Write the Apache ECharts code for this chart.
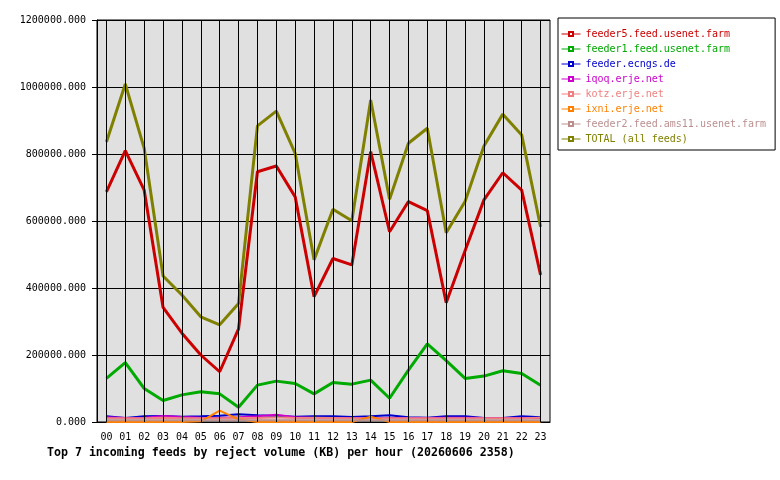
<!DOCTYPE html>
<html>
<head>
<meta charset="utf-8">
<script src="https://cdn.jsdelivr.net/npm/echarts@6/dist/echarts.min.js"></script>
<style>
  html, body { margin: 0; padding: 0; background: #fff; }
  #chart { width: 780px; height: 480px; }
</style>
</head>
<body>
<div id="chart"></div>
<script>
// hours on the x axis
var hours = ['00', '01', '02', '03', '04', '05', '06', '07', '08', '09', '10', '11',
             '12', '13', '14', '15', '16', '17', '18', '19', '20', '21', '22', '23'];

// reject volume (KB) per feed
var feeder5 = [687000, 810000, 692000, 342000, 265000, 200000, 150000, 278000, 747000, 764000, 672000, 374000,
               488000, 469000, 807000, 568000, 658000, 631000, 356000, 511000, 663000, 744000, 692000, 439000];
var feeder1 = [130000, 177000, 100000, 64000, 81000, 90000, 84000, 44000, 110000, 122000, 115000, 84000,
               118000, 113000, 125000, 71000, 155000, 233000, 183000, 130000, 137000, 153000, 145000, 110000];
var ecngs = [17000, 12000, 17000, 18000, 16000, 17000, 19000, 23000, 20000, 18000, 16000, 17000,
             17000, 15000, 17000, 20000, 14000, 13000, 17000, 17000, 12000, 12000, 17000, 14000];
var iqoq = [14000, 12000, 13000, 18000, 15000, 13000, 12000, 14000, 17000, 22000, 14000, 12000,
            12000, 12000, 12000, 12000, 12000, 12000, 13000, 13000, 12000, 12000, 12000, 12000];
var kotz = [11000, 11000, 11000, 13000, 11000, 11000, 11000, 12000, 12000, 14000, 12000, 13000,
            12000, 11000, 11000, 11000, 11000, 11000, 11000, 11000, 11000, 11000, 11000, 13000];
var ixni = [0, 0, 0, 0, 0, 2000, 34000, 8000, 0, 0, 0, 0,
            0, 0, 16000, 0, 0, 0, 0, 0, 0, 0, 0, 0];
var feeder2 = [5000, 5000, 5000, 5000, 5000, 5000, 5000, 5000, 5000, 5000, 5000, 5000,
               5000, 5000, 5000, 5000, 5000, 5000, 5000, 5000, 5000, 5000, 5000, 5000];
var total = [836000, 1009000, 817000, 436000, 379000, 314000, 290000, 354000, 884000, 928000, 802000, 484000,
             635000, 601000, 961000, 665000, 832000, 877000, 565000, 658000, 824000, 919000, 857000, 583000];

var feedNames = ['feeder5.feed.usenet.farm', 'feeder1.feed.usenet.farm', 'feeder.ecngs.de', 'iqoq.erje.net',
                 'kotz.erje.net', 'ixni.erje.net', 'feeder2.feed.ams11.usenet.farm', 'TOTAL (all feeds)'];
var feedData = [feeder5, feeder1, ecngs, iqoq, kotz, ixni, feeder2, total];
var feedColors = ['#cc0000', '#00aa00', '#0000cc', '#cc00cc', '#f08080', '#ff8000', '#bc8f8f', '#808000'];
var feedWidths = [3, 3, 2, 2, 2, 2, 2, 3];

var font = '"DejaVu Sans Mono", monospace';

var chart = echarts.init(document.getElementById('chart'));

// vertical grid lines sit on the hour centres, not on the band edges
var series = [{
    name: 'hour-grid',
    type: 'line',
    data: [],
    z: 1,
    silent: true,
    markLine: {
        silent: true,
        symbol: 'none',
        label: { show: false },
        lineStyle: { color: '#000', width: 1, type: 'solid' },
        data: hours.map(function (h) { return { xAxis: h }; })
    }
}];
var legendData = [];
for (var i = 0; i < feedNames.length; i++) {
    series.push({
        name: feedNames[i],
        type: 'line',
        data: feedData[i],
        symbol: 'emptyRect',
        symbolSize: 4,
        showSymbol: false,
        lineStyle: { color: feedColors[i], width: feedWidths[i] },
        itemStyle: { color: feedColors[i] }
    });
    legendData.push({ name: feedNames[i], textStyle: { color: feedColors[i] } });
}

chart.setOption({
    animation: false,
    title: {
        text: 'Top 7 incoming feeds by reject volume (KB) per hour (20260606 2358)',
        left: 47,
        top: 447,
        padding: 0,
        textStyle: { fontFamily: font, fontSize: 11.6, fontWeight: 'bold', color: '#000' }
    },
    legend: {
        orient: 'vertical',
        left: 558,
        top: 18,
        data: legendData,
        borderColor: '#000',
        borderWidth: 1,
        padding: [10, 9, 5, 3],
        itemWidth: 19,
        itemHeight: 5,
        itemGap: 3,
        lineStyle: { width: 1 },
        textStyle: { fontFamily: font, fontSize: 10, lineHeight: 12 }
    },
    grid: {
        left: 97,
        top: 20,
        right: 230,
        bottom: 58,
        show: true,
        backgroundColor: '#e0e0e0',
        borderColor: '#000',
        borderWidth: 1
    },
    xAxis: {
        type: 'category',
        data: hours,
        boundaryGap: true,
        axisLine: { lineStyle: { color: '#000', width: 1 } },
        axisTick: { alignWithLabel: true, length: 5, lineStyle: { color: '#000' } },
        axisLabel: { fontFamily: font, fontSize: 10, color: '#000', margin: 10, interval: 0 },
        splitLine: { show: false }
    },
    yAxis: {
        type: 'value',
        min: 0,
        max: 1200000,
        interval: 200000,
        axisLine: { show: true, lineStyle: { color: '#000', width: 1 } },
        axisTick: { show: true, length: 5, lineStyle: { color: '#000' } },
        axisLabel: {
            fontFamily: font, fontSize: 10, color: '#000', margin: 11,
            formatter: function (v) { return v.toFixed(3); }
        },
        splitLine: { show: true, lineStyle: { color: '#000', width: 1 } }
    },
    series: series
});
</script>
</body>
</html>
